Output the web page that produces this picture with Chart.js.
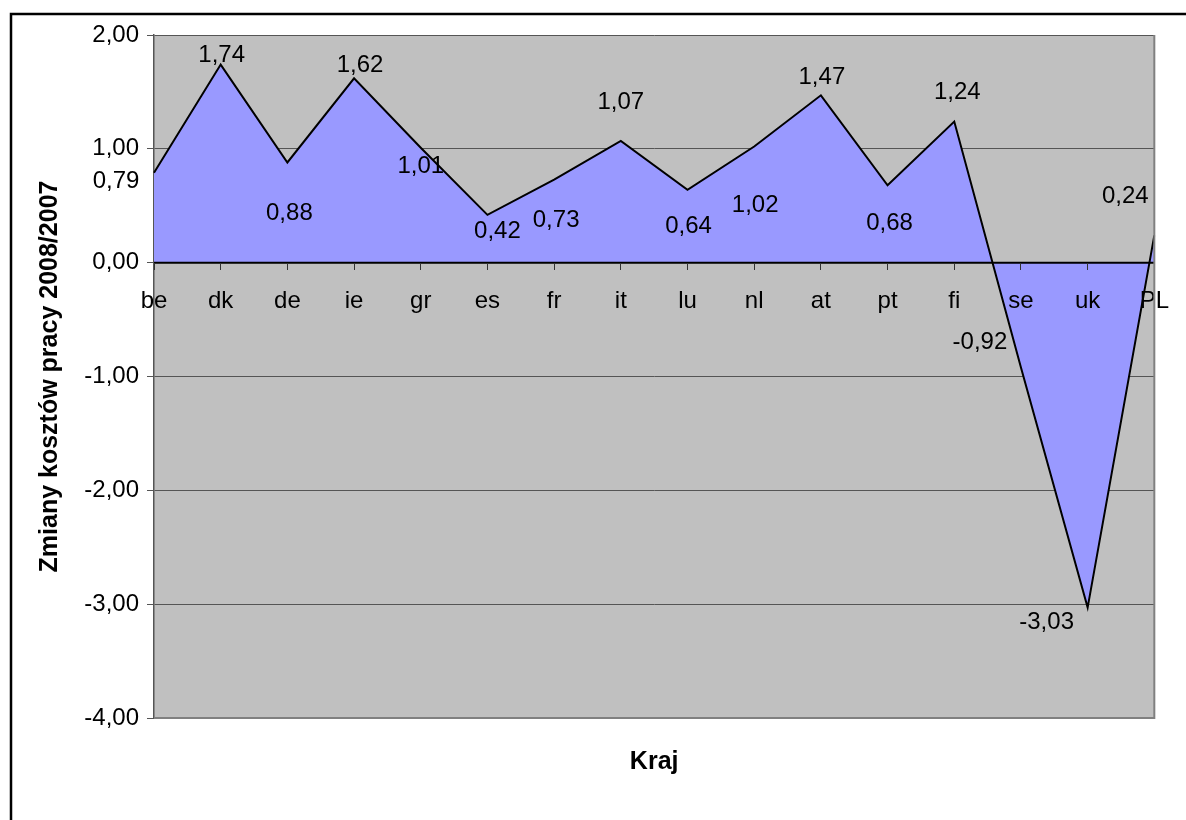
<!DOCTYPE html>
<html>
<head>
<meta charset="utf-8">
<script src="https://cdn.jsdelivr.net/npm/chart.js@4/dist/chart.umd.min.js"></script>
<style>
  body { margin: 0; background: #fff; overflow: hidden; }
  canvas { display: block; }
</style>
</head>
<body>
<canvas id="chart" width="1186" height="820"></canvas>
<script>
// Countries and labour cost change 2008/2007
const countries = ['be', 'dk', 'de', 'ie', 'gr', 'es', 'fr', 'it', 'lu', 'nl', 'at', 'pt', 'fi', 'se', 'uk', 'PL'];
const changes = [0.79, 1.74, 0.88, 1.62, 1.01, 0.42, 0.73, 1.07, 0.64, 1.02, 1.47, 0.68, 1.24, -0.92, -3.03, 0.24];
const yTicks = [-4, -3, -2, -1, 0, 1, 2];

const TEXT_FONT = '"Liberation Sans", Arial, sans-serif';

function fmt(v) {
    return v.toFixed(2).replace('.', ',');
}

// where each value label sits relative to its point (moved by hand in the original)
const labelOffsets = [
    [-38, 9], [1, -9], [2, 51], [6, -13], [0, 19], [10, 17], [2, 41], [0, -38],
    [1, 37], [1, 59], [1, -18], [2, 38], [3, -29], [-41, -25], [-41, 15], [-29, -39]
];

// frame round the whole chart and grey plot background
const background = {
    id: 'background',
    beforeDraw(chart) {
        const ctx = chart.ctx;
        const a = chart.chartArea;
        ctx.save();
        ctx.fillStyle = '#fff';
        ctx.fillRect(0, 0, chart.width, chart.height);
        ctx.strokeStyle = '#000';
        ctx.lineWidth = 2.5;
        ctx.strokeRect(11, 14, 1400, 1000);
        ctx.fillStyle = '#c0c0c0';
        ctx.fillRect(a.left, a.top, a.right - a.left, a.bottom - a.top);
        ctx.restore();
    },
    afterDraw(chart) {
        const ctx = chart.ctx;
        const a = chart.chartArea;
        ctx.save();
        ctx.strokeStyle = '#808080';
        ctx.lineWidth = 2;
        ctx.beginPath();
        ctx.moveTo(a.left, a.bottom);
        ctx.lineTo(a.right, a.bottom);
        ctx.lineTo(a.right, a.top);
        ctx.stroke();
        ctx.restore();
    }
};

// zero line over the area, then the value labels
const valueLabels = {
    id: 'valueLabels',
    afterDatasetsDraw(chart) {
        const ctx = chart.ctx;
        const a = chart.chartArea;
        const y0 = chart.scales.y.getPixelForValue(0);
        ctx.save();
        ctx.strokeStyle = '#000';
        ctx.lineWidth = 2;
        ctx.beginPath();
        ctx.moveTo(a.left, y0);
        ctx.lineTo(a.right, y0);
        ctx.stroke();

        const meta = chart.getDatasetMeta(0);
        ctx.font = '24px ' + TEXT_FONT;
        ctx.fillStyle = '#000';
        ctx.textAlign = 'center';
        ctx.textBaseline = 'middle';
        meta.data.forEach((pt, i) => {
            const off = labelOffsets[i];
            ctx.fillText(fmt(changes[i]), pt.x + off[0], pt.y + off[1]);
        });
        ctx.restore();
    }
};

// axis titles
const axisTitles = {
    id: 'axisTitles',
    afterDraw(chart) {
        const ctx = chart.ctx;
        const a = chart.chartArea;
        ctx.save();
        ctx.fillStyle = '#000';
        ctx.font = 'bold 25px ' + TEXT_FONT;
        ctx.textAlign = 'center';
        ctx.textBaseline = 'middle';
        ctx.fillText('Kraj', (a.left + a.right) / 2, 762);
        ctx.translate(50, (a.top + a.bottom) / 2);
        ctx.rotate(-Math.PI / 2);
        ctx.fillText('Zmiany kosztów pracy 2008/2007', 0, 0);
        ctx.restore();
    }
};

new Chart(document.getElementById('chart'), {
    type: 'line',
    data: {
        labels: countries,
        datasets: [{
            data: changes,
            fill: 'origin',
            backgroundColor: '#9999ff',
            borderColor: '#000',
            borderWidth: 2,
            pointRadius: 0,
            tension: 0
        }]
    },
    options: {
        responsive: false,
        animation: false,
        layout: {
            padding: { left: 0, top: 35, right: 25, bottom: 102 }
        },
        plugins: {
            legend: { display: false },
            tooltip: { enabled: false }
        },
        scales: {
            x: {
                type: 'category',
                position: { y: 0 },
                grid: {
                    drawOnChartArea: false,
                    drawTicks: true,
                    tickLength: 7,
                    color: '#333',
                    lineWidth: 1,
                    z: 1
                },
                border: { display: false },
                ticks: {
                    color: '#000',
                    font: { family: TEXT_FONT, size: 24 },
                    padding: 17,
                    maxRotation: 0,
                    autoSkip: false,
                    z: 1
                }
            },
            y: {
                min: yTicks[0],
                max: yTicks[yTicks.length - 1],
                afterBuildTicks(scale) {
                    scale.ticks = yTicks.map(v => ({ value: v }));
                },
                afterFit(scale) {
                    scale.width = 154;
                },
                grid: {
                    color: '#555',
                    lineWidth: 1,
                    tickLength: 7
                },
                border: { color: '#555', width: 1.5 },
                ticks: {
                    color: '#000',
                    font: { family: TEXT_FONT, size: 24 },
                    padding: 8,
                    callback: v => fmt(v)
                }
            }
        }
    },
    plugins: [background, valueLabels, axisTitles]
});
</script>
</body>
</html>
